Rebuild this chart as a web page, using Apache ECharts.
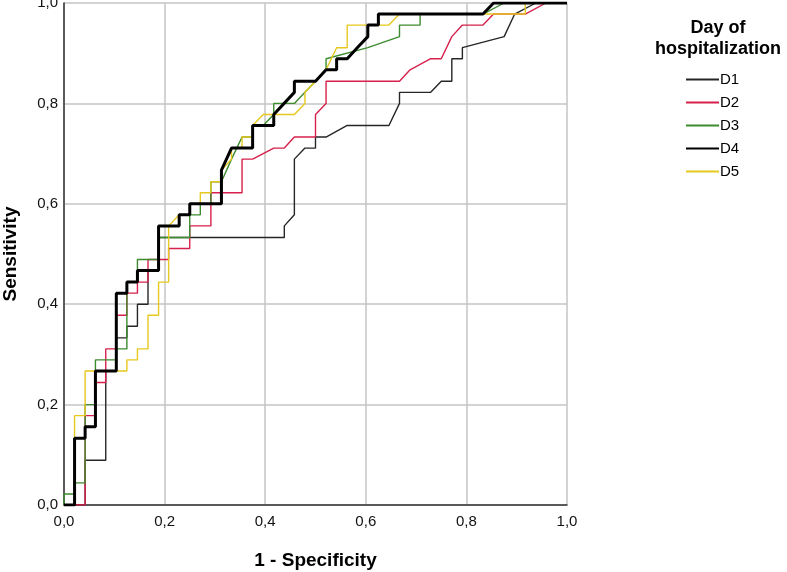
<!DOCTYPE html>
<html>
<head>
<meta charset="utf-8">
<script src="https://cdn.jsdelivr.net/npm/echarts@6/dist/echarts.min.js"></script>
<style>
  html, body { margin: 0; padding: 0; background: #fff; }
  #roc { width: 787px; height: 572px; }
</style>
</head>
<body>
<div id="roc"></div>
<script>
// ROC curves, [1 - specificity, sensitivity]
const seriesNames = ['D1', 'D2', 'D3', 'D4', 'D5'];
const tickLabels = ['0,0', '0,2', '0,4', '0,6', '0,8', '1,0'];

const d1 = [[0,0],[0.042,0],[0.042,0.089],[0.083,0.089],[0.083,0.267],[0.104,0.267],[0.104,0.333],[0.125,0.333],
  [0.125,0.356],[0.146,0.356],[0.146,0.4],[0.167,0.4],[0.167,0.467],[0.188,0.467],[0.188,0.533],[0.438,0.533],
  [0.438,0.556],[0.458,0.578],[0.458,0.689],[0.479,0.711],[0.5,0.711],[0.5,0.733],[0.521,0.733],[0.563,0.756],
  [0.646,0.756],[0.667,0.8],[0.667,0.822],[0.729,0.822],[0.75,0.844],[0.771,0.844],[0.771,0.889],[0.792,0.889],
  [0.792,0.911],[0.875,0.933],[0.896,0.978],[0.938,1],[1,1]];

const d2 = [[0,0],[0.042,0],[0.042,0.178],[0.0625,0.178],[0.0625,0.244],[0.083,0.244],[0.083,0.311],[0.104,0.311],
  [0.104,0.378],[0.125,0.378],[0.125,0.422],[0.146,0.422],[0.146,0.444],[0.167,0.444],[0.167,0.489],[0.208,0.489],
  [0.208,0.511],[0.25,0.511],[0.25,0.556],[0.292,0.556],[0.292,0.622],[0.354,0.622],[0.354,0.689],[0.375,0.689],
  [0.417,0.711],[0.438,0.711],[0.458,0.733],[0.5,0.733],[0.5,0.778],[0.521,0.8],[0.521,0.844],[0.667,0.844],
  [0.688,0.867],[0.729,0.889],[0.75,0.889],[0.771,0.933],[0.792,0.956],[0.833,0.956],[0.854,0.978],[0.917,0.978],
  [0.958,1],[1,1]];

const d3 = [[0,0],[0,0.022],[0.021,0.022],[0.021,0.044],[0.042,0.044],[0.042,0.2],[0.0625,0.2],[0.0625,0.289],
  [0.104,0.289],[0.104,0.311],[0.125,0.311],[0.125,0.444],[0.146,0.444],[0.146,0.489],[0.188,0.489],[0.188,0.533],
  [0.25,0.533],[0.25,0.578],[0.271,0.578],[0.271,0.6],[0.292,0.6],[0.292,0.644],[0.313,0.644],[0.333,0.689],
  [0.354,0.733],[0.375,0.733],[0.375,0.756],[0.396,0.756],[0.417,0.778],[0.417,0.8],[0.458,0.8],[0.479,0.822],
  [0.5,0.844],[0.521,0.867],[0.521,0.889],[0.604,0.911],[0.667,0.933],[0.667,0.956],[0.708,0.956],[0.708,0.978],
  [0.833,0.978],[0.875,1],[1,1]];

const d4 = [[0,0],[0.021,0],[0.021,0.133],[0.042,0.133],[0.042,0.156],[0.0625,0.156],[0.0625,0.267],[0.104,0.267],
  [0.104,0.422],[0.125,0.422],[0.125,0.444],[0.146,0.444],[0.146,0.467],[0.188,0.467],[0.188,0.556],[0.229,0.556],
  [0.229,0.578],[0.25,0.578],[0.25,0.6],[0.313,0.6],[0.313,0.667],[0.333,0.711],[0.375,0.711],[0.375,0.756],
  [0.417,0.756],[0.417,0.778],[0.458,0.822],[0.458,0.844],[0.5,0.844],[0.521,0.867],[0.542,0.867],[0.542,0.889],
  [0.563,0.889],[0.583,0.911],[0.604,0.933],[0.604,0.956],[0.625,0.956],[0.625,0.978],[0.833,0.978],[0.854,1],[1,1]];

const d5 = [[0,0],[0.021,0],[0.021,0.178],[0.042,0.178],[0.042,0.267],[0.125,0.267],[0.125,0.289],[0.146,0.289],
  [0.146,0.311],[0.167,0.311],[0.167,0.378],[0.188,0.378],[0.188,0.444],[0.208,0.444],[0.208,0.556],[0.229,0.578],
  [0.25,0.578],[0.25,0.6],[0.271,0.6],[0.271,0.622],[0.292,0.622],[0.292,0.644],[0.313,0.644],[0.313,0.667],
  [0.333,0.689],[0.333,0.711],[0.354,0.711],[0.354,0.733],[0.375,0.733],[0.375,0.756],[0.396,0.778],[0.458,0.778],
  [0.479,0.8],[0.479,0.822],[0.5,0.844],[0.521,0.867],[0.542,0.911],[0.563,0.911],[0.563,0.956],[0.646,0.956],
  [0.667,0.978],[0.917,0.978],[0.917,1],[1,1]];

const curves = [d1, d2, d3, d4, d5];
const colors = ['#262626', '#d8204c', '#3c8b2e', '#000000', '#e6c81e'];
const widths = [1.4, 1.4, 1.4, 3, 1.4];

let chart = echarts.init(document.getElementById('roc'), null, {renderer: 'canvas'});

const axisCommon = {
    type: 'value',
    min: 0,
    max: 1,
    interval: 0.2,
    nameLocation: 'middle',
    nameTextStyle: {fontFamily: 'Liberation Sans', fontSize: 19, fontWeight: 'bold', color: '#000'},
    axisLine: {show: true, lineStyle: {color: '#333', width: 1.5}},
    axisTick: {show: false},
    splitLine: {show: true, lineStyle: {color: '#c4c4c4', width: 1.5}},
    axisLabel: {
        fontFamily: 'Liberation Sans', fontSize: 15, color: '#111',
        formatter: function (v) { return tickLabels[Math.round(v * 5)]; }
    }
};

chart.setOption({
    animation: false,
    backgroundColor: '#fff',
    title: {
        text: 'Day of\nhospitalization',
        left: 713, top: 13,
        textAlign: 'center',
        textStyle: {fontFamily: 'Liberation Sans', fontSize: 18, fontWeight: 'bold', color: '#000', lineHeight: 21}
    },
    grid: {left: 64, top: 3, width: 503, height: 502, containLabel: false, outerBoundsMode: 'none'},
    legend: {
        orient: 'vertical',
        left: 685, top: 72,
        padding: 0,
        itemWidth: 33, itemHeight: 14, itemGap: 8,
        itemStyle: {opacity: 0},
        textStyle: {fontFamily: 'Liberation Sans', fontSize: 15, color: '#000', padding: [0, 0, 0, -4]},
        data: seriesNames
    },
    xAxis: Object.assign({}, axisCommon, {
        name: '1 - Specificity', nameGap: 46,
        axisLabel: Object.assign({}, axisCommon.axisLabel, {margin: 9})
    }),
    yAxis: Object.assign({}, axisCommon, {
        name: 'Sensitivity', nameGap: 44,
        axisLabel: Object.assign({}, axisCommon.axisLabel, {margin: 6})
    }),
    series: seriesNames.map(function (n, i) {
        return {
            name: n,
            type: 'line',
            data: curves[i],
            symbol: 'none',
            silent: true,
            z: i === 3 ? 3 : 2 + i * 0.1,
            itemStyle: {color: colors[i]},
            lineStyle: {color: colors[i], width: widths[i]}
        };
    })
});

window.onresize = function () {
    chart.resize();
};
</script>
</body>
</html>
